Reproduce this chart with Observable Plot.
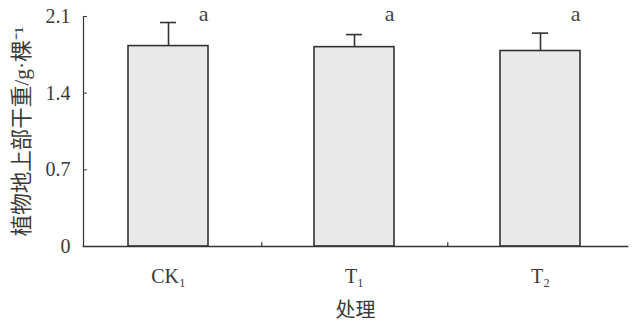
<!DOCTYPE html>
<html>
<head>
<meta charset="utf-8">
<script src="https://cdn.jsdelivr.net/npm/d3@7"></script>
<script src="https://cdn.jsdelivr.net/npm/@observablehq/plot@0.6"></script>
<style>
  html, body { margin: 0; padding: 0; background: #fff; }
  svg { font-family: "Liberation Serif", "Noto Sans CJK SC", serif; }
</style>
</head>
<body>
<div id="chart"></div>
<script>
const categories = ["CK₁", "T₁", "T₂"];
const means = [1.83, 1.82, 1.785];
const uppers = [2.045, 1.935, 1.948];
const letters = ["a", "a", "a"];
const yTicks = [0, 0.7, 1.4, 2.1];
const yTickLabels = ["0", "0.7", "1.4", "2.1"];
const yLabel = "植物地上部干重/g·棵⁻¹";
const xLabel = "处理";

const data = categories.map((c, i) => ({cat: c, mean: means[i], upper: uppers[i], letter: letters[i]}));

const chart = Plot.plot({
  width: 635,
  height: 323,
  marginTop: 16,
  marginBottom: 77,
  marginLeft: 83,
  marginRight: 8,
  style: {fontFamily: '"Liberation Serif", "Noto Sans CJK SC", serif', color: "#3a3a3a", background: "#fff"},
  x: {domain: categories, range: [73.75, 633.25], paddingInner: 0.571, paddingOuter: 0.2855},
  y: {domain: [0, 2.1]},
  marks: [
    Plot.barY(data, {x: "cat", y: "mean", fill: "#e9e9e9", stroke: "#333", strokeWidth: 1.6}),
    Plot.ruleX(data, {x: "cat", y1: "mean", y2: "upper", stroke: "#333", strokeWidth: 1.6}),
    Plot.tickY(data, {x: "cat", y: "upper", stroke: "#333", strokeWidth: 1.6, insetLeft: 32, insetRight: 32}),
    Plot.text(data, {x: "cat", y: () => 2.12, text: "letter", dx: 35, fontSize: 22, fill: "#444"}),
    Plot.ruleX(categories.slice(0, 2), {x: d => d, dx: 93.25, y1: 0, y2: 0.035, stroke: "#333", strokeWidth: 1.2}),
    Plot.frame({anchor: "left", stroke: "#333", strokeWidth: 1.2}),
    Plot.frame({anchor: "bottom", stroke: "#333", strokeWidth: 1.6}),
    Plot.axisY({ticks: yTicks, tickFormat: (d, i) => yTickLabels[i], tickSize: -4, tickPadding: 17, fontSize: 20, label: null}),
    Plot.axisY({ticks: [], tickSize: 0, fontSize: 21.5,
      label: yLabel, labelAnchor: "center", labelArrow: "none", labelOffset: 70}),
    Plot.axisX({tickSize: 0, tickPadding: 22, fontSize: 20, label: xLabel, labelAnchor: "center", labelArrow: "none", labelOffset: 70})
  ]
});
document.getElementById("chart").appendChild(chart);
</script>
</body>
</html>
